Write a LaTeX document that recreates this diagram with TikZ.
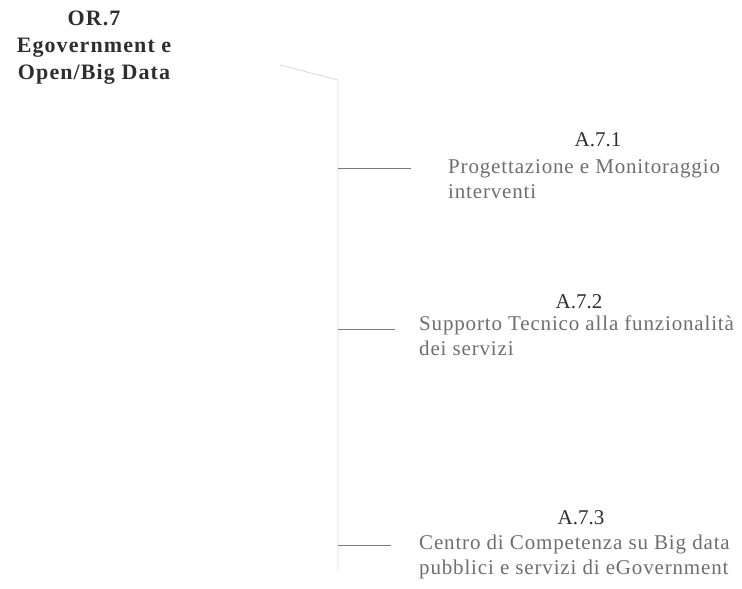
\documentclass[tikz,border=0pt]{standalone}
\usepackage{fontspec}
\setmainfont{Liberation Serif}
\definecolor{headgray}{HTML}{2E2E2E}
\definecolor{bodygray}{HTML}{6E6E6E}
\definecolor{branchgray}{HTML}{7A7A7A}
\definecolor{trunkgray}{HTML}{DCDCDC}
\tikzset{
  rootlabel/.style={align=center, text=headgray, font=\fontsize{22}{27}\selectfont\bfseries\addfontfeature{LetterSpace=5}, inner sep=0pt},
  actlabel/.style={text=headgray, font=\fontsize{21}{24}\selectfont, inner sep=0pt},
  actbody/.style={align=left, text=bodygray, font=\fontsize{21}{24.5}\selectfont\addfontfeature{LetterSpace=4}, inner sep=0pt},
  branch/.style={draw=branchgray, line width=0.9pt},
  trunk/.style={draw=trunkgray, line width=0.9pt}
}
\begin{document}
\begin{tikzpicture}[x=1pt, y=-1pt]
    \useasboundingbox (0,0) rectangle (742,589);

    % base anchor sits on the last line
    \node[rootlabel, anchor=base] (or7) at (94,79) {OR.7\\Egovernment e\\Open/Big Data};

    \coordinate (t0) at (280,65);
    \coordinate (t1) at (338,80);
    \coordinate (tend) at (338,570);
    \draw[trunk] (t0) -- (t1) -- (tend);

    \node[actlabel, anchor=base] (a1) at (598,146) {A.7.1};
    \node[actbody, anchor=base west] (b1) at (448,198) {Progettazione e Monitoraggio\\interventi};
    \coordinate (j1) at (338,168);
    \coordinate (e1) at (411,168);
    \draw[branch] (j1) -- (e1);

    \node[actlabel, anchor=base] (a2) at (579,308) {A.7.2};
    \node[actbody, anchor=base west] (b2) at (419,355) {Supporto Tecnico alla funzionalità\\dei servizi};
    \coordinate (j2) at (338,329);
    \coordinate (e2) at (395,329);
    \draw[branch] (j2) -- (e2);

    \node[actlabel, anchor=base] (a3) at (581,524) {A.7.3};
    \node[actbody, anchor=base west] (b3) at (419,574) {Centro di Competenza su Big data\\pubblici e servizi di eGovernment};
    \coordinate (j3) at (338,545);
    \coordinate (e3) at (391,545);
    \draw[branch] (j3) -- (e3);

\end{tikzpicture}
\end{document}
